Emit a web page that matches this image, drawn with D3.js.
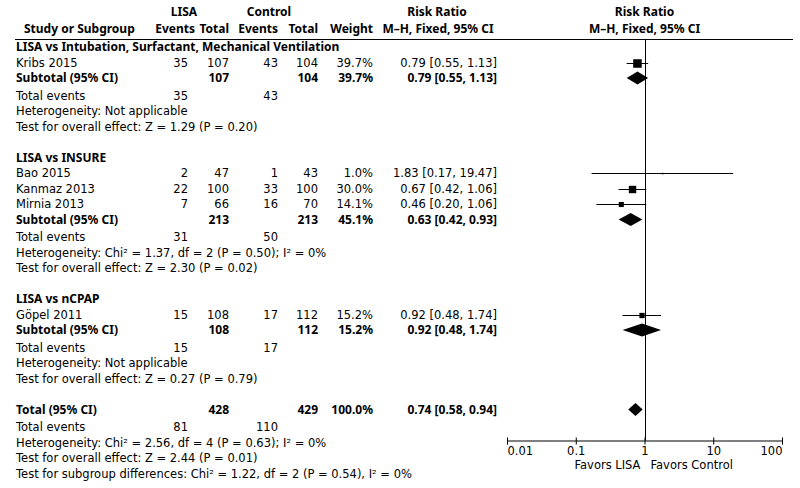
<!DOCTYPE html>
<html>
<head>
<meta charset="utf-8">
<script src="https://cdn.jsdelivr.net/npm/d3@7"></script>
<style>
  body { margin: 0; background: #fff; }
  svg text { font-family: "DejaVu Sans", sans-serif; font-size: 11.5px; fill: #000; }
  svg text.b { font-family: "Noto Sans", sans-serif; font-weight: bold; font-size: 12px; }
</style>
</head>
<body>
<svg id="chart" width="800" height="488"></svg>
<script>
// study level data
var groupTitles = ['LISA vs Intubation, Surfactant, Mechanical Ventilation', 'LISA vs INSURE', 'LISA vs nCPAP'];
var studyNames = ['Kribs 2015', 'Bao 2015', 'Kanmaz 2013', 'Mirnia 2013', 'G\u00f6pel 2011'];
var studyGroup = [0, 1, 1, 1, 2];
var lisaEvents = [35, 2, 22, 7, 15];
var lisaTotal = [107, 47, 100, 66, 108];
var ctrlEvents = [43, 1, 33, 16, 17];
var ctrlTotal = [104, 43, 100, 70, 112];
var weights = [39.7, 1.0, 30.0, 14.1, 15.2];
var rr = [0.79, 1.83, 0.67, 0.46, 0.92];
var rrLow = [0.55, 0.17, 0.42, 0.20, 0.48];
var rrHigh = [1.13, 19.47, 1.06, 1.06, 1.74];

// subgroup level data
var subLisaTotal = [107, 213, 108];
var subCtrlTotal = [104, 213, 112];
var subWeight = [39.7, 45.1, 15.2];
var subRR = [0.79, 0.63, 0.92];
var subLow = [0.55, 0.42, 0.48];
var subHigh = [1.13, 0.93, 1.74];
var subLisaEvents = [35, 31, 15];
var subCtrlEvents = [43, 50, 17];
var subHeterogeneity = ['Heterogeneity: Not applicable',
  'Heterogeneity: Chi\u00b2 = 1.37, df = 2 (P = 0.50); I\u00b2 = 0%',
  'Heterogeneity: Not applicable'];
var subEffect = ['Test for overall effect: Z = 1.29 (P = 0.20)',
  'Test for overall effect: Z = 2.30 (P = 0.02)',
  'Test for overall effect: Z = 0.27 (P = 0.79)'];

// overall
var totalLisa = 428, totalCtrl = 429, totalWeight = 100.0;
var totalRR = [0.74, 0.58, 0.94];
var totalEvents = [81, 110];
var totalNotes = ['Heterogeneity: Chi\u00b2 = 2.56, df = 4 (P = 0.63); I\u00b2 = 0%',
  'Test for overall effect: Z = 2.44 (P = 0.01)',
  'Test for subgroup differences: Chi\u00b2 = 1.22, df = 2 (P = 0.54), I\u00b2 = 0%'];

// axis
var axisTicks = [0.01, 0.1, 1, 10, 100];
var axisTickLabels = ['0.01', '0.1', '1', '10', '100'];

var svg = d3.select('#chart');
var f2 = d3.format('.2f'), f1 = d3.format('.1f');
var rrText = function (m, l, h) { return f2(m) + ' [' + f2(l) + ', ' + f2(h) + ']'; };

// columns (right edges)
var col = { name: 16, ev1: 188, tot1: 229, ev2: 278, tot2: 318, weight: 373, rr: 497 };

var x = d3.scaleLog().domain([0.01, 100]).range([507, 782]);
var y = d3.scaleLinear().domain([0, 1]).range([51, 66.5]);

// build rows with slot positions
var rows = [], slot = 0;
groupTitles.forEach(function (title, g) {
  rows.push({ type: 'title', slot: slot, text: title });
  studyNames.forEach(function (n, i) {
    if (studyGroup[i] !== g) { return; }
    slot += 1;
    rows.push({ type: 'study', slot: slot, i: i });
  });
  slot += 1;
  rows.push({ type: 'subtotal', slot: slot, g: g });
  slot += 1.13;
  rows.push({ type: 'events', slot: slot, a: subLisaEvents[g], b: subCtrlEvents[g] });
  slot += 1;
  rows.push({ type: 'note', slot: slot, text: subHeterogeneity[g] });
  slot += 1;
  rows.push({ type: 'note', slot: slot, text: subEffect[g] });
  slot += 2;
});
rows.push({ type: 'total', slot: slot });
slot += 1.13;
rows.push({ type: 'events', slot: slot, a: totalEvents[0], b: totalEvents[1] });
totalNotes.forEach(function (t) {
  slot += 1;
  rows.push({ type: 'note', slot: slot, text: t });
});

function txt(xp, yp, s, anchor, bold) {
  return svg.append('text')
    .attr('x', xp).attr('y', yp)
    .attr('text-anchor', anchor || 'start')
    .attr('class', bold ? 'b' : null)
    .text(s);
}

// header
txt(184, 16, 'LISA', 'middle', true);
txt(269, 16, 'Control', 'middle', true);
txt(437, 16, 'Risk Ratio', 'middle', true);
txt(x(1), 16, 'Risk Ratio', 'middle', true);
txt(24, 33, 'Study or Subgroup', 'start', true);
txt(195, 33, 'Events', 'end', true);
txt(col.tot1, 33, 'Total', 'end', true);
txt(col.ev2, 33, 'Events', 'end', true);
txt(col.tot2, 33, 'Total', 'end', true);
txt(col.weight, 33, 'Weight', 'end', true);
txt(438, 33, 'M\u2013H, Fixed, 95% CI', 'middle', true);
txt(x(1), 33, 'M\u2013H, Fixed, 95% CI', 'middle', true);

svg.append('line')
  .attr('x1', 15).attr('x2', 793)
  .attr('y1', 39.5).attr('y2', 39.5)
  .attr('stroke', '#000').attr('stroke-width', 1);

// line of no effect
svg.append('line')
  .attr('x1', Math.round(x(1)) + 0.5).attr('x2', Math.round(x(1)) + 0.5)
  .attr('y1', 39.5).attr('y2', 440.5)
  .attr('stroke', '#000').attr('stroke-width', 1);

var markY = function (r) { return y(r.slot) - 4; };
var crispY = function (r) { return Math.round(markY(r)) + 0.5; };

rows.forEach(function (r) {
  var yp = y(r.slot);
  if (r.type === 'title') {
    txt(col.name, yp, r.text, 'start', true);
  } else if (r.type === 'note') {
    txt(col.name, yp, r.text);
  } else if (r.type === 'events') {
    txt(col.name, yp, 'Total events');
    txt(col.ev1, yp, r.a, 'end');
    txt(col.ev2, yp, r.b, 'end');
  } else if (r.type === 'study') {
    var i = r.i;
    txt(col.name, yp, studyNames[i]);
    txt(col.ev1, yp, lisaEvents[i], 'end');
    txt(col.tot1, yp, lisaTotal[i], 'end');
    txt(col.ev2, yp, ctrlEvents[i], 'end');
    txt(col.tot2, yp, ctrlTotal[i], 'end');
    txt(col.weight, yp, f1(weights[i]) + '%', 'end');
    txt(col.rr, yp, rrText(rr[i], rrLow[i], rrHigh[i]), 'end');
  } else if (r.type === 'subtotal') {
    var g = r.g;
    txt(col.name, yp, 'Subtotal (95% CI)', 'start', true);
    txt(col.tot1, yp, subLisaTotal[g], 'end', true);
    txt(col.tot2, yp, subCtrlTotal[g], 'end', true);
    txt(col.weight, yp, f1(subWeight[g]) + '%', 'end', true);
    txt(col.rr, yp, rrText(subRR[g], subLow[g], subHigh[g]), 'end', true);
  } else if (r.type === 'total') {
    txt(col.name, yp, 'Total (95% CI)', 'start', true);
    txt(col.tot1, yp, totalLisa, 'end', true);
    txt(col.tot2, yp, totalCtrl, 'end', true);
    txt(col.weight, yp, f1(totalWeight) + '%', 'end', true);
    txt(col.rr, yp, rrText(totalRR[0], totalRR[1], totalRR[2]), 'end', true);
  }
});

// study markers
var studyRows = rows.filter(function (r) { return r.type === 'study'; });
var plot = svg.append('g').attr('class', 'plot');

plot.selectAll('line.ci').data(studyRows).enter().append('line')
  .attr('class', 'ci')
  .attr('x1', function (r) { return x(rrLow[r.i]); })
  .attr('x2', function (r) { return x(rrHigh[r.i]); })
  .attr('y1', crispY).attr('y2', crispY)
  .attr('stroke', '#000').attr('stroke-width', 1);

plot.selectAll('rect.box').data(studyRows).enter().append('rect')
  .attr('class', 'box')
  .attr('x', function (r) { return x(rr[r.i]) - 0.675 * Math.sqrt(weights[r.i]); })
  .attr('y', function (r) { return crispY(r) - 0.675 * Math.sqrt(weights[r.i]); })
  .attr('width', function (r) { return Math.max(1.5, 1.35 * Math.sqrt(weights[r.i])); })
  .attr('height', function (r) { return Math.max(1.5, 1.35 * Math.sqrt(weights[r.i])); })
  .attr('fill', '#000');

// diamonds for subtotals and total
var diamondRows = rows.filter(function (r) { return r.type === 'subtotal' || r.type === 'total'; })
  .map(function (r) {
    var v = r.type === 'total' ? totalRR : [subRR[r.g], subLow[r.g], subHigh[r.g]];
    return { y: markY(r), m: v[0], l: v[1], h: v[2] };
  });

plot.selectAll('path.diamond').data(diamondRows).enter().append('path')
  .attr('class', 'diamond')
  .attr('d', function (d) {
    return 'M' + x(d.l) + ',' + d.y + 'L' + x(d.m) + ',' + (d.y - 6.5) +
      'L' + x(d.h) + ',' + d.y + 'L' + x(d.m) + ',' + (d.y + 6.5) + 'Z';
  })
  .attr('fill', '#000');

// axis
var axis = d3.axisBottom(x)
  .tickValues(axisTicks)
  .tickFormat(function (d, i) { return axisTickLabels[i]; })
  .tickSizeOuter(0)
  .tickSize(4);

var ax = svg.append('g')
  .attr('transform', 'translate(0,440.5)')
  .call(axis);
ax.attr('font-family', null).attr('font-size', null);
ax.select('.domain').attr('stroke', '#000');
ax.selectAll('.tick line').attr('y1', -3).attr('y2', 4).attr('stroke', '#000');
ax.selectAll('.tick text')
  .attr('y', 14).attr('dy', 0)
  .attr('text-anchor', function (d, i) { return i === 0 ? 'start' : (i === axisTicks.length - 1 ? 'end' : 'middle'); });

txt(x(1) - 4, 469, 'Favors LISA', 'end');
txt(x(1) + 6, 469, 'Favors Control', 'start');
</script>
</body>
</html>
